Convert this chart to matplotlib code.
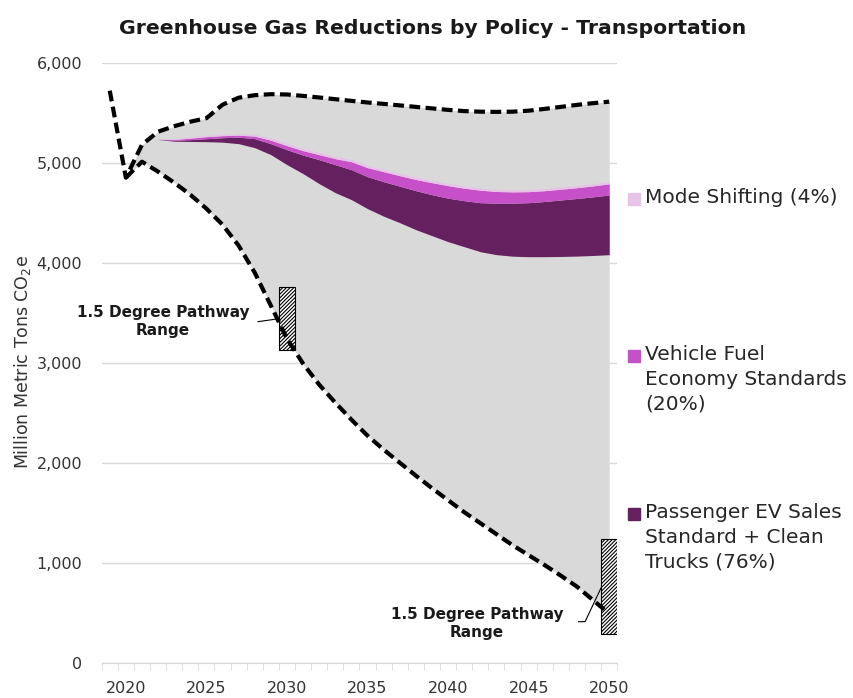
import numpy as np
import matplotlib
matplotlib.use("Agg")
import matplotlib.pyplot as plt
from matplotlib.patches import Rectangle

# ---- data ----
years = list(range(2020, 2051))

# historical point + upper dashed bound
hist_years = [2019, 2020]
hist_vals = [5720, 4850]

upper = [4850, 5180, 5310, 5365, 5410, 5445, 5580, 5650, 5675, 5685,
         5682, 5668, 5652, 5635, 5618, 5602, 5588, 5573, 5558, 5543,
         5528, 5516, 5510, 5508, 5510, 5520, 5538, 5558, 5578, 5595,
         5610]

lower = [4850, 5010, 4910, 4800, 4680, 4540, 4380, 4170, 3900, 3570,
         3240, 2990, 2780, 2600, 2430, 2270, 2130, 2000, 1870, 1745,
         1625, 1505, 1395, 1285, 1175, 1075, 975, 870, 760, 625,
         490]

band_years = list(range(2022, 2051))
ev_bottom = [5232, 5215, 5212, 5210, 5205, 5190, 5150, 5080, 4980, 4890,
             4790, 4700, 4630, 4540, 4465, 4400, 4330, 4270, 4210, 4160,
             4110, 4080, 4065, 4060, 4060, 4062, 4066, 4072, 4080]
ev_top = [5233, 5225, 5230, 5240, 5250, 5255, 5240, 5190, 5130, 5075,
          5030, 4980, 4930, 4860, 4810, 4765, 4720, 4680, 4645, 4620,
          4600, 4595, 4595, 4600, 4612, 4627, 4642, 4658, 4677]
fuel_top = [5234, 5232, 5245, 5260, 5270, 5275, 5265, 5225, 5170, 5120,
            5080, 5040, 5010, 4950, 4910, 4870, 4832, 4800, 4770, 4745,
            4725, 4712, 4708, 4710, 4720, 4735, 4750, 4768, 4788]
mode_top = [5236, 5240, 5256, 5273, 5285, 5292, 5284, 5248, 5193, 5143,
            5103, 5063, 5033, 4973, 4933, 4893, 4855, 4823, 4793, 4768,
            4748, 4735, 4731, 4733, 4743, 4758, 4773, 4791, 4810]

# 1.5 degree pathway ranges (floating bars)
range_years = [2030, 2050]
range_low = [3130, 290]
range_high = [3755, 1240]

legend_labels = ["Mode Shifting (4%)",
                 "Vehicle Fuel\nEconomy Standards\n(20%)",
                 "Passenger EV Sales\nStandard + Clean\nTrucks (76%)"]
legend_colors = ["#E8C3E8", "#C650C8", "#65205F"]

tick_years = [2020, 2025, 2030, 2035, 2040, 2045, 2050]
y_ticks = [0, 1000, 2000, 3000, 4000, 5000, 6000]

# ---- figure ----
plt.rcParams['font.family'] = ['DejaVu Sans']
plt.rcParams['hatch.linewidth'] = 0.8

fig = plt.figure(figsize=(8.54, 6.98), dpi=100)
ax = fig.add_axes([0.1191, 0.0506, 0.6037, 0.8596])

grey = "#D9D9D9"
ax.fill_between(years, lower, upper, color=grey, lw=0, zorder=1)
ax.fill_between(band_years, ev_bottom, ev_top, color=legend_colors[2], lw=0, zorder=2)
ax.fill_between(band_years, ev_top, fuel_top, color=legend_colors[1], lw=0, zorder=2)
ax.fill_between(band_years, fuel_top, mode_top, color=legend_colors[0], lw=0, zorder=2)

dash = dict(color="black", lw=3, dashes=(2.6, 1.3), dash_capstyle="butt", zorder=4)
ax.plot(hist_years + years[1:], hist_vals + upper[1:], **dash)
ax.plot(years, lower, **dash)

# hatched range bars
heights = [h - l for h, l in zip(range_high, range_low)]
ax.bar(range_years, heights, bottom=range_low, width=0.98, color="white",
       edgecolor="black", hatch="/////////", lw=0.8, zorder=3)

# leader lines and labels
ax.plot([2028.2, 2029.5], [3410, 3440], color="black", lw=0.8, zorder=5)
ax.plot([2048.1, 2048.5, 2049.5], [410, 410, 750], color="black", lw=0.8, zorder=5)
ax.text(2022.3, 3415, "1.5 Degree Pathway\nRange", ha="center", va="center",
        fontsize=11, fontweight="bold", color="#1a1a1a", linespacing=1.25)
ax.text(2041.8, 392, "1.5 Degree Pathway\nRange", ha="center", va="center",
        fontsize=11, fontweight="bold", color="#1a1a1a", linespacing=1.25)

# axes styling
ax.set_xlim(2018.5, 2050.5)
ax.set_ylim(0, 6000)
ax.set_yticks(y_ticks)
ax.set_yticklabels([f"{v:,}" for v in y_ticks])
ax.set_xticks(tick_years)
ax.set_xticks(np.arange(2018.5, 2051, 1), minor=True)
ax.tick_params(axis="x", which="major", length=0, pad=13, labelsize=11.5, labelcolor="#333333")
ax.tick_params(axis="x", which="minor", length=5, color=grey, direction="out")
ax.tick_params(axis="y", length=0, pad=14, labelsize=11.5, labelcolor="#333333")
ax.grid(axis="y", color=grey, lw=1, zorder=0)
ax.set_axisbelow(True)
for s in ["top", "right", "left"]:
    ax.spines[s].set_visible(False)
ax.spines["bottom"].set_color(grey)

fig.text(0.026, 1 - 362 / 698, "Million Metric Tons CO$_2$e", rotation=90,
         ha="center", va="center", fontsize=12.5, color="#333333")

fig.text(0.507, 1 - 29 / 698, "Greenhouse Gas Reductions by Policy - Transportation",
         ha="center", va="center", fontsize=14.7, fontweight="bold", color="#1a1a1a")

# legend
legend_y = [199, 356, 514]
for lab, col, yy in zip(legend_labels, legend_colors, legend_y):
    fy = 1 - yy / 698
    fig.patches.append(Rectangle((628 / 854, fy - 6 / 698), 12 / 854, 12 / 698,
                                 transform=fig.transFigure, color=col))
    fig.text(645 / 854, fy + 11 / 698, lab, ha="left", va="top", fontsize=14.5,
             color="#262626", linespacing=1.37)

fig.savefig("out.png", dpi=100)
